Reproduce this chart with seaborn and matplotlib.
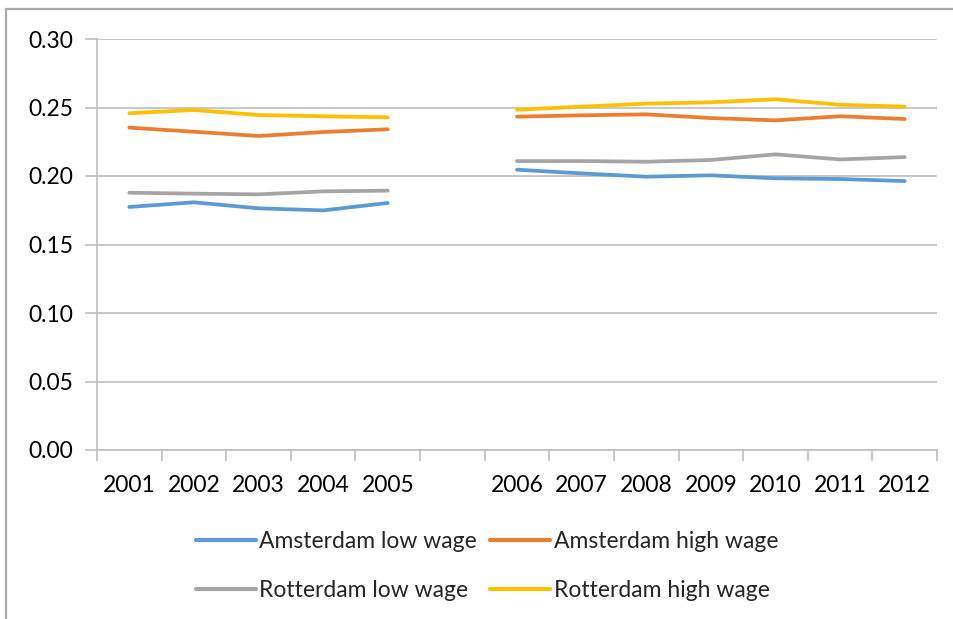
import numpy as np
import pandas as pd
import matplotlib
matplotlib.use("Agg")
import matplotlib.pyplot as plt
from matplotlib.lines import Line2D
from matplotlib.patches import Rectangle
import seaborn as sns

# Category axis: two periods separated by an empty slot
categories = ["2001", "2002", "2003", "2004", "2005", "",
              "2006", "2007", "2008", "2009", "2010", "2011", "2012"]

amsterdam_low = [0.1774, 0.1808, 0.1764, 0.1749, 0.1803, None,
                 0.2046, 0.2019, 0.1995, 0.2005, 0.1983, 0.1978, 0.1963]
amsterdam_high = [0.2353, 0.2323, 0.2292, 0.2321, 0.2341, None,
                  0.2433, 0.2443, 0.2450, 0.2423, 0.2406, 0.2436, 0.2416]
rotterdam_low = [0.1878, 0.1871, 0.1866, 0.1888, 0.1893, None,
                 0.2109, 0.2109, 0.2104, 0.2117, 0.2158, 0.2121, 0.2138]
rotterdam_high = [0.2458, 0.2482, 0.2445, 0.2436, 0.2428, None,
                  0.2484, 0.2506, 0.2528, 0.2538, 0.2560, 0.2520, 0.2506]

series_names = ["Amsterdam low wage", "Amsterdam high wage",
                "Rotterdam low wage", "Rotterdam high wage"]
series_values = [amsterdam_low, amsterdam_high, rotterdam_low, rotterdam_high]
colors = ["#5B9BD5", "#ED7D31", "#A5A5A5", "#FFC000"]

y_ticks = [0.00, 0.05, 0.10, 0.15, 0.20, 0.25, 0.30]

# Long-form table; each period is its own line segment
rows = []
for name, vals in zip(series_names, series_values):
    seg = 0
    for i, v in enumerate(vals):
        if v is None:
            seg += 1
            continue
        rows.append({"pos": i, "value": v, "series": name, "segment": seg})
df = pd.DataFrame(rows)

sns.set_theme(style="white")
plt.rcParams["font.family"] = ["Lato", "DejaVu Sans"]

fig = plt.figure(figsize=(9.54, 6.19), dpi=100)
ax = fig.add_axes([97 / 954, 1 - 450 / 619, 840 / 954, 411 / 619])

palette = dict(zip(series_names, colors))
sns.lineplot(data=df, x="pos", y="value", hue="series", units="segment",
             estimator=None, palette=palette, linewidth=2.7, ax=ax,
             legend=False, sort=True)

grid_color = "#BFBFBF"
ax.set_xlim(-0.5, len(categories) - 0.5)
ax.set_ylim(0, 0.30)
ax.set_yticks(y_ticks)
ax.set_yticklabels([f"{t:.2f}" for t in y_ticks])
ax.yaxis.grid(True, color=grid_color, linewidth=1.2)
ax.set_axisbelow(True)

ax.set_xticks(np.arange(len(categories)))
ax.set_xticklabels(categories)
ax.set_xticks(np.arange(len(categories) + 1) - 0.5, minor=True)
ax.tick_params(axis="x", which="major", length=0, pad=18, labelsize=16.5,
               labelcolor="#000000")
ax.tick_params(axis="x", which="minor", length=8, width=1.2, color=grid_color,
               direction="out", bottom=True)
ax.tick_params(axis="y", length=9, width=1.2, color=grid_color, pad=8,
               labelsize=16.5, labelcolor="#000000", left=True)

for s in ["top", "right"]:
    ax.spines[s].set_visible(False)
for s in ["left", "bottom"]:
    ax.spines[s].set_color(grid_color)
    ax.spines[s].set_linewidth(1.2)

ax.set_xlabel("")
ax.set_ylabel("")

# Legend filled row by row: Amsterdam pair on top, Rotterdam pair below
order = [0, 2, 1, 3]
handles = [Line2D([0], [0], color=colors[i], linewidth=3.0) for i in order]
labels = [series_names[i] for i in order]
fig.legend(handles, labels, loc="center",
           bbox_to_anchor=(487 / 954, 1 - 566 / 619), ncol=2, frameon=False,
           fontsize=16.5, handlelength=2.6, handletextpad=0.15,
           columnspacing=0.6, labelspacing=1.2)

# Outer chart frame
fig.patches.append(Rectangle((6.5 / 954, -0.05), 1.2, 1.05 - 9 / 619,
                             transform=fig.transFigure, fill=False,
                             edgecolor="#ABABAB", linewidth=1.6))

fig.savefig("out.png", dpi=100)
